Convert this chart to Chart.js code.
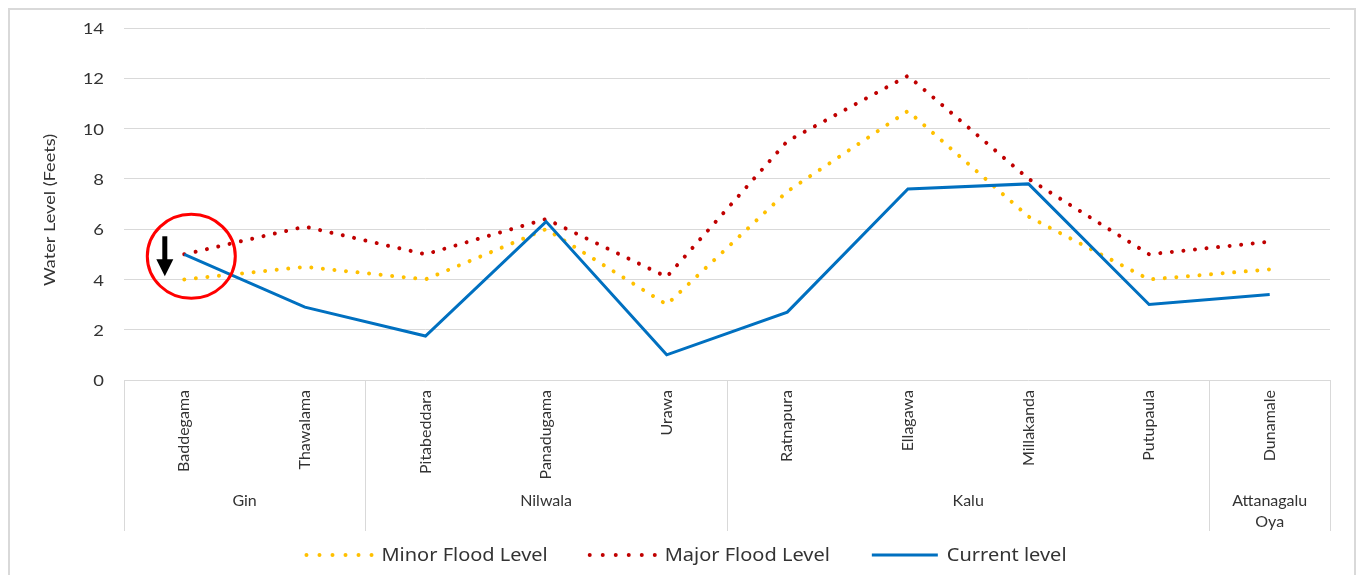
<!DOCTYPE html>
<html><head><meta charset="utf-8">
<script src="https://cdn.jsdelivr.net/npm/chart.js@4.4.0/dist/chart.umd.min.js"></script>
<style>
html,body{margin:0;padding:0;background:#fff;}
#wrap{position:relative;width:1359px;height:575px;overflow:hidden;background:#fff;}
#frame{position:absolute;left:8px;top:8px;width:1348px;height:620px;border:2px solid #d9d9d9;box-sizing:border-box;}
canvas{position:absolute;left:0;top:0;}
</style></head><body>
<div id="wrap"><div id="frame"></div><canvas id="c" width="1359" height="575"></canvas></div>
<script>
const stations = ['Baddegama','Thawalama','Pitabeddara','Panadugama','Urawa','Ratnapura','Ellagawa','Millakanda','Putupaula','Dunamale'];
const rivers = ['Gin','Gin','Nilwala','Nilwala','Nilwala','Kalu','Kalu','Kalu','Kalu','Attanagalu Oya'];
const minorFlood = [4.0, 4.5, 4.0, 6.0, 3.0, 7.5, 10.7, 6.5, 4.0, 4.4];
const majorFlood = [5.0, 6.1, 5.0, 6.4, 4.1, 9.5, 12.1, 8.0, 5.0, 5.5];
const currentLevel = [5.0, 2.9, 1.75, 6.3, 1.0, 2.7, 7.6, 7.8, 3.0, 3.4];
const yTicks = [0, 2, 4, 6, 8, 10, 12, 14];
const yTitle = 'Water Level (Feets)';
const highlightIndex = 0;

const TXT = '#333333';
const GRID = '#d9d9d9';
const FONT = 'Lato';

const dotDash = [0.01, 11.6];
const legendDash = [0.01, 13];

const extras = {
  id: 'extras',
  afterDraw(chart) {
    const ctx = chart.ctx;
    const xs = chart.scales.x, ys = chart.scales.y;
    const ca = chart.chartArea;
    const px = i => xs.getPixelForValue(i);
    ctx.save();
    // group boundaries
    const bounds = [ca.left];
    const groups = [];
    let start = 0;
    for (let i = 1; i <= stations.length; i++) {
      if (i === stations.length || rivers[i] !== rivers[i - 1]) {
        groups.push({name: rivers[start], s: start, e: i - 1});
        bounds.push(i === stations.length ? ca.right : (px(i - 1) + px(i)) / 2);
        start = i;
      }
    }
    ctx.strokeStyle = GRID;
    ctx.lineWidth = 1;
    bounds.forEach(b => {
      const x = Math.round(b) + 0.5;
      ctx.beginPath(); ctx.moveTo(x, ca.bottom); ctx.lineTo(x, 531); ctx.stroke();
    });
    // y tick labels
    ctx.fillStyle = TXT;
    ctx.font = '16px ' + FONT;
    ctx.textAlign = 'right';
    ctx.textBaseline = 'middle';
    yTicks.forEach(v => {
      ctx.save();
      ctx.translate(104, ys.getPixelForValue(v) + 1);
      ctx.scale(1.15, 1);
      ctx.fillText(String(v), 0, 0);
      ctx.restore();
    });
    // station labels
    ctx.font = '16px ' + FONT;
    stations.forEach((s, i) => {
      ctx.save();
      ctx.translate(px(i), ca.bottom + 10);
      ctx.rotate(-Math.PI / 2);
      ctx.textAlign = 'right';
      ctx.textBaseline = 'middle';
      ctx.fillText(s, 0, 0);
      ctx.restore();
    });
    // group labels
    ctx.textAlign = 'center';
    ctx.textBaseline = 'middle';
    groups.forEach((g, k) => {
      const cx = (bounds[k] + bounds[k + 1]) / 2;
      const w = bounds[k + 1] - bounds[k] - 20;
      let lines = [g.name];
      if (ctx.measureText(g.name).width > w && g.name.includes(' ')) lines = g.name.split(' ');
      lines.forEach((l, j) => ctx.fillText(l, cx, 501 + j * 21));
    });
    // y title
    ctx.save();
    ctx.translate(50, 210);
    ctx.rotate(-Math.PI / 2);
    ctx.font = '16px ' + FONT;
    const tw = ctx.measureText(yTitle).width;
    ctx.scale(152 / tw, 1);
    ctx.fillText(yTitle, 0, 0);
    ctx.restore();
    // highlight circle + arrow
    const hx = px(highlightIndex), hy = ys.getPixelForValue(currentLevel[highlightIndex]);
    ctx.strokeStyle = '#ff0000';
    ctx.lineWidth = 3;
    ctx.beginPath();
    ctx.ellipse(hx + 7, hy + 2, 44, 42, 0, 0, Math.PI * 2);
    ctx.stroke();
    ctx.fillStyle = '#000';
    ctx.fillRect(hx - 22, hy - 18, 5, 24);
    ctx.beginPath();
    ctx.moveTo(hx - 28, hy + 5); ctx.lineTo(hx - 11, hy + 5); ctx.lineTo(hx - 19.5, hy + 22); ctx.closePath();
    ctx.fill();
    // legend
    const items = chart.data.datasets.map(d => ({label: d.label, color: d.borderColor, dotted: !!d.borderDash, lw: d.borderWidth}));
    ctx.font = '18px "Noto Sans"';
    const stretch = 1.11;
    const sample = 66, gap = 9, spacing = 42;
    let total = 0;
    items.forEach((it, i) => { it.tw = ctx.measureText(it.label).width * stretch; total += sample + gap + it.tw + (i ? spacing : 0); });
    let x = chart.width / 2 + 7 - total / 2;
    const ly = 555;
    ctx.textAlign = 'left';
    items.forEach((it, i) => {
      if (i) x += spacing;
      ctx.save();
      ctx.strokeStyle = it.color;
      ctx.lineWidth = it.lw;
      ctx.lineCap = it.dotted ? 'round' : 'butt';
      ctx.setLineDash(it.dotted ? legendDash : []);
      ctx.beginPath(); ctx.moveTo(x, ly); ctx.lineTo(x + sample, ly); ctx.stroke();
      ctx.restore();
      ctx.save();
      ctx.translate(x + sample + gap, ly + 1);
      ctx.scale(stretch, 1);
      ctx.fillStyle = TXT;
      ctx.fillText(it.label, 0, 0);
      ctx.restore();
      x += sample + gap + it.tw;
    });
    ctx.restore();
  }
};

new Chart(document.getElementById('c').getContext('2d'), {
  type: 'line',
  data: {
    labels: stations,
    datasets: [
      {label: 'Minor Flood Level', data: minorFlood, borderColor: '#FFC000', borderWidth: 4, borderDash: dotDash, borderCapStyle: 'round', pointRadius: 0, tension: 0, fill: false, order: 2},
      {label: 'Major Flood Level', data: majorFlood, borderColor: '#C00000', borderWidth: 4, borderDash: dotDash, borderCapStyle: 'round', pointRadius: 0, tension: 0, fill: false, order: 1},
      {label: 'Current level', data: currentLevel, borderColor: '#0070C0', borderWidth: 3, pointRadius: 0, tension: 0, fill: false, order: 0}
    ]
  },
  options: {
    responsive: false,
    animation: false,
    devicePixelRatio: 1,
    layout: {padding: {left: 0, right: 29, top: 28, bottom: 0}},
    plugins: {legend: {display: false}, tooltip: {enabled: false}, title: {display: false}},
    scales: {
      x: {offset: true, ticks: {display: false}, grid: {display: false}, border: {display: false},
          afterFit(s) { s.height = 195; }},
      y: {min: 0, max: 14,
          afterBuildTicks(s) { s.ticks = yTicks.map(v => ({value: v})); },
          ticks: {display: false},
          grid: {color: GRID, drawTicks: false, lineWidth: 1},
          border: {display: false},
          afterFit(s) { s.width = 124; }}
    }
  },
  plugins: [extras]
});
</script>
</body></html>
